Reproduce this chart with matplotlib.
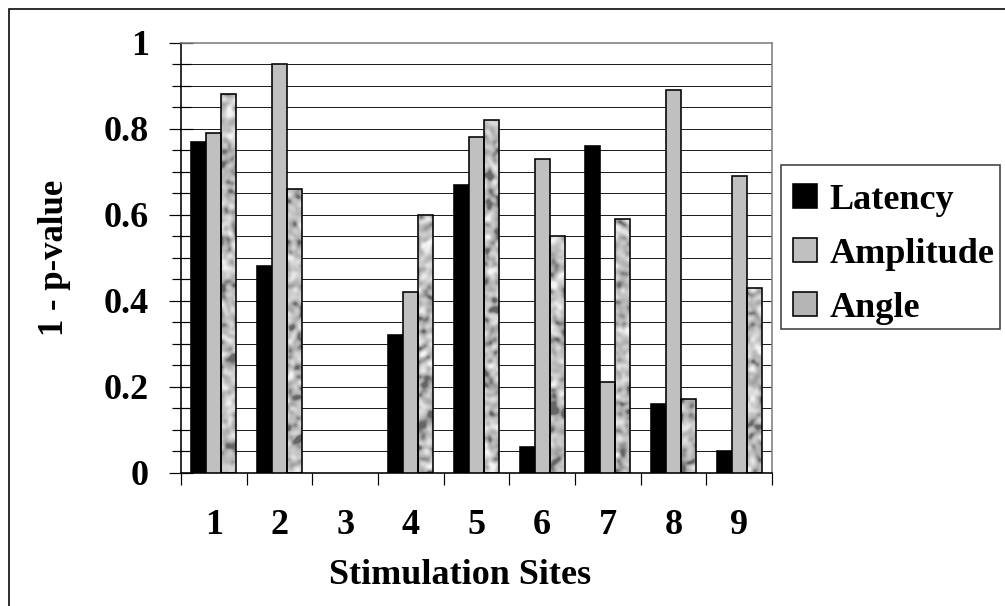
import numpy as np
import matplotlib
matplotlib.use("Agg")
import matplotlib.pyplot as plt
from matplotlib.patches import Rectangle, Patch
from matplotlib.ticker import FixedLocator, MultipleLocator, NullFormatter, FixedFormatter

# Data: 1 - p-value per stimulation site
sites = ["1", "2", "3", "4", "5", "6", "7", "8", "9"]
latency = [0.77, 0.48, 0.0, 0.32, 0.67, 0.06, 0.76, 0.16, 0.05]
amplitude = [0.79, 0.95, 0.0, 0.42, 0.78, 0.73, 0.21, 0.89, 0.69]
angle = [0.88, 0.66, 0.0, 0.60, 0.82, 0.55, 0.59, 0.17, 0.43]
series_names = ["Latency", "Amplitude", "Angle"]
ytick_labels = ["0", "0.2", "0.4", "0.6", "0.8", "1"]

plt.rcParams["font.family"] = ["Liberation Serif", "DejaVu Serif"]
plt.rcParams["font.weight"] = "bold"
plt.rcParams["axes.labelweight"] = "bold"

W, H = 1005, 606
fig = plt.figure(figsize=(W / 100, H / 100), dpi=100)
ax_left, ax_right, ax_bottom, ax_top = 181, 772, 472.5, 42.7
ax = fig.add_axes([ax_left / W, 1 - ax_bottom / H,
                   (ax_right - ax_left) / W, (ax_bottom - ax_top) / H])

PX = 72 / 100  # points per pixel
FS = 26

n = len(sites)
x = np.arange(n) + 0.5
bw = 0.227

# horizontal grid every 0.05
for yv in np.arange(0.05, 0.951, 0.05):
    ax.axhline(yv, color="#1e1e1e", lw=1.0 * PX, zorder=1)


def edge_widths(values):
    return [1.6 * PX if v > 0 else 0 for v in values]


ax.bar(x - bw, latency, bw, color="black", edgecolor="black",
       linewidth=edge_widths(latency), zorder=3)
ax.bar(x, amplitude, bw, color="#c0c0c0", edgecolor="black",
       linewidth=edge_widths(amplitude), zorder=3)


def mottled(shape, scale, seed):
    rng = np.random.default_rng(seed)
    noise = rng.standard_normal(shape)
    fy = np.fft.fftfreq(shape[0])[:, None]
    fx = np.fft.fftfreq(shape[1])[None, :]
    filt = np.exp(-(fx ** 2 + fy ** 2) / (2 * scale ** 2))
    sm = np.real(np.fft.ifft2(np.fft.fft2(noise) * filt))
    return (sm - sm.mean()) / sm.std()


tex = mottled((430, 591), 0.07, 7)
tex = 0.76 + 0.09 * tex - 0.05 * np.clip(tex, None, -0.7) ** 2
tex = np.clip(tex, 0.4, 0.95)

angle_bars = ax.bar(x + bw, angle, bw, facecolor="none", edgecolor="black",
                    linewidth=edge_widths(angle), zorder=4)
for rect in angle_bars:
    im = ax.imshow(tex, cmap="gray", vmin=0, vmax=1, extent=(0, n, 0, 1),
                   aspect="auto", interpolation="bilinear", zorder=2.5,
                   origin="lower")
    im.set_clip_path(rect)
ax.set_xlim(0, n)
ax.set_ylim(0, 1)

# y axis ticks
ax.yaxis.set_major_locator(FixedLocator([0, 0.2, 0.4, 0.6, 0.8, 1.0]))
ax.yaxis.set_major_formatter(FixedFormatter(ytick_labels))
ax.yaxis.set_minor_locator(MultipleLocator(0.05))
ax.tick_params(axis="y", which="major", direction="inout", length=24 * PX,
               width=1.2 * PX, pad=20 * PX, labelsize=FS)
ax.tick_params(axis="y", which="minor", direction="inout", length=19 * PX,
               width=1.2 * PX)

# x axis: boundary ticks, centered labels
ax.xaxis.set_major_locator(FixedLocator(np.arange(0, n + 1)))
ax.xaxis.set_major_formatter(NullFormatter())
ax.xaxis.set_minor_locator(FixedLocator(x))
ax.xaxis.set_minor_formatter(FixedFormatter(sites))
ax.tick_params(axis="x", which="major", direction="out", length=12 * PX,
               width=1.2 * PX)
ax.tick_params(axis="x", which="minor", length=0, pad=36 * PX, labelsize=FS)

for s in ("left", "bottom"):
    ax.spines[s].set_color("black")
    ax.spines[s].set_linewidth(1.6 * PX)
for s in ("top", "right"):
    ax.spines[s].set_color("#808080")
    ax.spines[s].set_linewidth(1.6 * PX)

ax.set_xlabel("Stimulation Sites", fontsize=FS, fontweight="bold", va="center")
ax.xaxis.set_label_coords((460 - ax_left) / (ax_right - ax_left),
                          (ax_bottom - 576) / (ax_bottom - ax_top))
ax.set_ylabel("1 - p-value", fontsize=25, fontweight="bold", va="center")
ax.yaxis.set_label_coords((55 - ax_left) / (ax_right - ax_left), 0.5)

# legend entries, with a fixed-size box drawn around them
edge_kw = dict(edgecolor="black", linewidth=1.6 * PX)
handles = [Patch(facecolor="black", **edge_kw),
           Patch(facecolor="#c0c0c0", **edge_kw),
           Patch(facecolor="#b4b4b4", **edge_kw)]
leg = fig.legend(handles, series_names, loc="upper left",
                 bbox_to_anchor=(781 / W, 1 - 172 / H), borderaxespad=0,
                 prop=dict(size=FS, weight="bold"),
                 handlelength=0.68, handleheight=0.68,
                 handletextpad=0.35, labelspacing=0.58, borderpad=0.32,
                 frameon=False)
fig.patches.append(Rectangle((781 / W, 1 - 329 / H), (1000 - 781) / W,
                             (329 - 165) / H, transform=fig.transFigure,
                             facecolor="white", edgecolor="#404040",
                             linewidth=1.6 * PX, zorder=0))

# outer chart frame
fig.patches.append(Rectangle((9 / W, -0.02), 1.05, 1 - 9 / H + 0.02,
                             transform=fig.transFigure, fill=False,
                             edgecolor="black", linewidth=1.6 * PX))

fig.savefig("out.png", dpi=100)
